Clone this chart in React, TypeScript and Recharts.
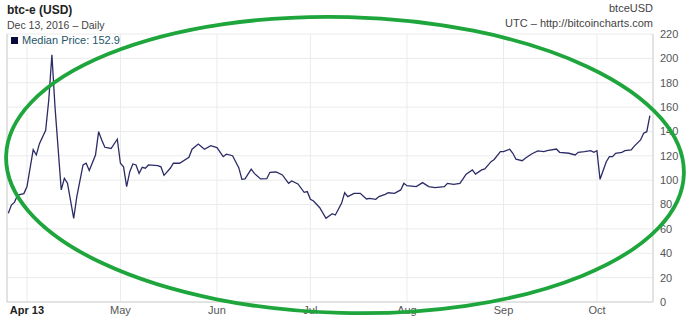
import React from 'react';
import { LineChart, Line, XAxis, YAxis, CartesianGrid, ReferenceLine } from 'recharts';

// btc-e daily median price
const dates = [
  '2013-03-26', '2013-03-27', '2013-03-28', '2013-03-29', '2013-03-31',
  '2013-04-01', '2013-04-03', '2013-04-04', '2013-04-05', '2013-04-07',
  '2013-04-08', '2013-04-09', '2013-04-10', '2013-04-12', '2013-04-13',
  '2013-04-14', '2013-04-16', '2013-04-17', '2013-04-19', '2013-04-20',
  '2013-04-21', '2013-04-23', '2013-04-24', '2013-04-25', '2013-04-26',
  '2013-04-28', '2013-04-30', '2013-05-01', '2013-05-02', '2013-05-03',
  '2013-05-04', '2013-05-05', '2013-05-06', '2013-05-07', '2013-05-08',
  '2013-05-09', '2013-05-10', '2013-05-13', '2013-05-14', '2013-05-15',
  '2013-05-17', '2013-05-18', '2013-05-20', '2013-05-23', '2013-05-24',
  '2013-05-26', '2013-05-28', '2013-05-30', '2013-06-01', '2013-06-03',
  '2013-06-04', '2013-06-06', '2013-06-08', '2013-06-09', '2013-06-10',
  '2013-06-12', '2013-06-13', '2013-06-15', '2013-06-17', '2013-06-18',
  '2013-06-20', '2013-06-22', '2013-06-24', '2013-06-25', '2013-06-27',
  '2013-06-29', '2013-06-30', '2013-07-01', '2013-07-02', '2013-07-04',
  '2013-07-06', '2013-07-08', '2013-07-09', '2013-07-11', '2013-07-12',
  '2013-07-13', '2013-07-15', '2013-07-17', '2013-07-19', '2013-07-20',
  '2013-07-22', '2013-07-23', '2013-07-25', '2013-07-26', '2013-07-28',
  '2013-07-30', '2013-07-31', '2013-08-01', '2013-08-04', '2013-08-06',
  '2013-08-08', '2013-08-10', '2013-08-13', '2013-08-14', '2013-08-16',
  '2013-08-18', '2013-08-19', '2013-08-20', '2013-08-22', '2013-08-23',
  '2013-08-25', '2013-08-26', '2013-08-28', '2013-08-29', '2013-08-31',
  '2013-09-01', '2013-09-03', '2013-09-04', '2013-09-05', '2013-09-07',
  '2013-09-08', '2013-09-10', '2013-09-12', '2013-09-14', '2013-09-15',
  '2013-09-18', '2013-09-19', '2013-09-22', '2013-09-24', '2013-09-25',
  '2013-09-27', '2013-09-29', '2013-09-30', '2013-10-01', '2013-10-02',
  '2013-10-04', '2013-10-05', '2013-10-06', '2013-10-07', '2013-10-09',
  '2013-10-10', '2013-10-12', '2013-10-13', '2013-10-15', '2013-10-16',
  '2013-10-17', '2013-10-18',
];

const medianPrice = [
  72.8, 79.6, 82, 87.8, 89,
  94.7, 125, 120.7, 130, 141,
  166, 203, 160, 92, 101.5,
  97.5, 68.7, 86.5, 112.5, 114,
  108, 120.7, 139.8, 133, 127,
  126, 133.6, 113.9, 111, 94.7,
  107, 113.3, 112.5, 105.6, 110.6,
  109.8, 112.5, 112, 111, 104,
  109.8, 113.9, 113.9, 118.8, 125.4,
  129.7, 125.4, 128.3, 126.7, 119.3,
  121.3, 120.1, 110.3, 100.7, 101,
  109, 105.6, 101, 101.2, 106.5,
  106.7, 104.3, 97.4, 99.3, 96.9,
  90, 90.6, 84.3, 82.9, 77.4,
  68.7, 72.5, 71.4, 81, 89.7,
  86.5, 89.2, 89.2, 84.6, 85.1,
  84.3, 86.5, 88.4, 89.7, 89.2,
  92, 97.4, 95.5, 94.7, 98,
  94.7, 93.9, 94.7, 97.4, 96.6,
  97.4, 101, 105, 108.4, 105,
  108.4, 109.2, 115.2, 117, 123.4,
  123.4, 125.4, 122.1, 117.2, 116,
  118, 121.5, 124, 123.4, 124.2,
  125.6, 122.9, 122.1, 120.7, 122.9,
  123.4, 124.2, 122.9, 124.2, 100.7,
  115.2, 119.3, 119.3, 122.1, 122.9,
  124.2, 124.8, 128, 133, 138.5,
  139.8, 152.9,
];

const monthTicks = ['2013-04-01', '2013-05-01', '2013-06-01', '2013-07-01', '2013-08-01', '2013-09-01', '2013-10-01'];
const monthLabels = ['Apr 13', 'May', 'Jun', 'Jul', 'Aug', 'Sep', 'Oct'];
const priceTicks = [0, 20, 40, 60, 80, 100, 120, 140, 160, 180, 200, 220];

const data = dates.map((d, i) => ({ t: Date.parse(d), price: medianPrice[i] }));
const xTicks = monthTicks.map((d) => Date.parse(d));
const xMin = Date.UTC(2013, 2, 25, 14);
const xMax = Date.UTC(2013, 9, 19);

const FONT = '"Liberation Sans", Arial, sans-serif';

const MonthTick = ({ x, y, payload, index }: any) => (
  <text
    x={x}
    y={y + 12}
    textAnchor="middle"
    fontFamily={FONT}
    fontSize={11}
    fontWeight={index === 0 ? 'bold' : 'normal'}
    fill={index === 0 ? '#222' : '#555'}
  >
    {monthLabels[xTicks.indexOf(payload.value)]}
  </text>
);

export default function App() {
  return (
    <div style={{ position: 'absolute', left: 0, top: 0, width: 700, height: 320, background: '#fff', fontFamily: FONT }}>
      <LineChart width={700} height={320} data={data} margin={{ top: 34, right: 0, bottom: 0, left: 7 }}>
        <CartesianGrid stroke="#ebebeb" strokeWidth={1} />
        <XAxis
          dataKey="t"
          type="number"
          scale="time"
          domain={[xMin, xMax]}
          ticks={xTicks}
          tick={<MonthTick />}
          tickLine={false}
          tickSize={0}
          tickMargin={0}
          height={18}
          stroke="#d0d0d0"
          interval={0}
        />
        <YAxis
          orientation="right"
          domain={[0, 220]}
          ticks={priceTicks}
          width={47}
          tickLine={false}
          tickSize={0}
          tickMargin={7}
          stroke="#d0d0d0"
          tick={{ fill: '#555', fontSize: 11, fontFamily: FONT }}
          interval={0}
        />
        <ReferenceLine x={xMin} stroke="#d0d0d0" />
        <Line
          type="linear"
          dataKey="price"
          stroke="#2b2b66"
          strokeWidth={1.3}
          dot={false}
          isAnimationActive={false}
        />
      </LineChart>

      <div style={{ position: 'absolute', left: 7, top: 3, fontSize: 12, fontWeight: 'bold', color: '#222' }}>btc-e (USD)</div>
      <div style={{ position: 'absolute', left: 7, top: 19, fontSize: 10.5, color: '#444' }}>Dec 13, 2016 – Daily</div>
      <div style={{ position: 'absolute', right: 47, top: 2, fontSize: 11, color: '#444' }}>btceUSD</div>
      <div style={{ position: 'absolute', right: 47, top: 17, fontSize: 11, color: '#444' }}>UTC – http://bitcoincharts.com</div>

      <div style={{ position: 'absolute', left: 11, top: 34, fontSize: 11, color: '#1e5568', display: 'flex', alignItems: 'center' }}>
        <span style={{ display: 'inline-block', width: 7, height: 7, background: '#0b0b3b', marginRight: 4 }} />
        Median Price: 152.9
      </div>

      {/* hand-drawn green highlight over the chart */}
      <svg width={700} height={320} style={{ position: 'absolute', left: 0, top: 0, pointerEvents: 'none' }}>
        <ellipse
          cx={345}
          cy={165}
          rx={339}
          ry={148}
          transform="rotate(1.5 345 165)"
          fill="none"
          stroke="#1ea53c"
          strokeWidth={3.8}
        />
      </svg>
    </div>
  );
}
